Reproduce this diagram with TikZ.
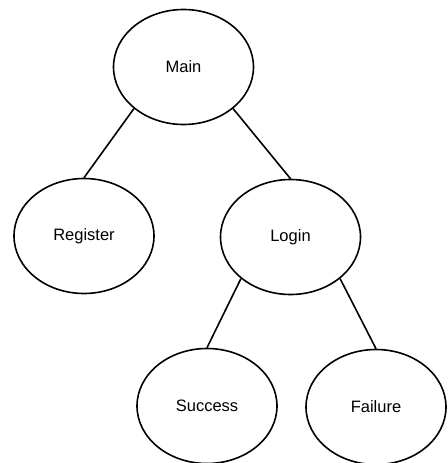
\documentclass[tikz,border=0pt]{standalone}
\usepackage{fontspec}
\setmainfont{Liberation Sans}
\usetikzlibrary{shapes,positioning}

\begin{document}
\begin{tikzpicture}[x=1pt,y=1pt,
     state/.style = {draw, ellipse, line width=1.6pt, minimum width=140pt,
      minimum height=115pt, inner sep=0pt, font=\fontsize{16.5}{19}\selectfont},
     link/.style = {draw, line width=1.6pt}
    ]
    \useasboundingbox (0,0) rectangle (447,-463);

    \node [state] at (183.5,-67) (main) {Main};
    \node [state, below of=main, node distance=169pt, xshift=-99.5pt] (register) {Register};
    \node [state, below of=main, node distance=170pt, xshift=107pt] (login) {Login};
    \node [state, below of=login, node distance=169pt, xshift=-83.5pt] (success) {Success};
    \node [state, below of=login, node distance=170pt, xshift=85.5pt] (failure) {Failure};

    \draw[link] (main.220) -- (register.north);
    \draw[link] (main.320) -- (login.north);
    \draw[link] (login.220) -- (success.north);
    \draw[link] (login.320) -- (failure.north);
\end{tikzpicture}
\end{document}
